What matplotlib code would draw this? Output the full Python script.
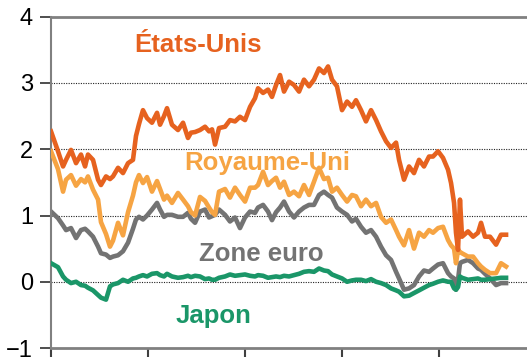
import matplotlib

matplotlib.use("Agg")
import matplotlib.pyplot as plt

plt.rcParams["font.family"] = ["Liberation Sans", "DejaVu Sans"]

# time in years since start of the sample
t = [
    0.000, 0.072, 0.124, 0.155, 0.206, 0.258, 0.309, 0.351, 0.381, 0.433,
    0.485, 0.515, 0.567, 0.608, 0.639, 0.691, 0.742, 0.794, 0.845, 0.876,
    0.907, 0.948, 0.990, 1.041, 1.093, 1.124, 1.165, 1.196, 1.247, 1.309,
    1.361, 1.412, 1.443, 1.485, 1.536, 1.588, 1.629, 1.660, 1.691, 1.732,
    1.794, 1.845, 1.897, 1.948, 2.000, 2.052, 2.103, 2.134, 2.186, 2.237,
    2.278, 2.320, 2.361, 2.402, 2.454, 2.505, 2.557, 2.608, 2.660, 2.711,
    2.763, 2.814, 2.856, 2.897, 2.948, 3.000, 3.052, 3.103, 3.144, 3.196,
    3.247, 3.299, 3.351, 3.402, 3.454, 3.505, 3.557, 3.588, 3.639, 3.691,
    3.742, 3.794, 3.845, 3.897, 3.938, 3.990, 4.041, 4.093, 4.124, 4.155,
    4.175, 4.196, 4.216, 4.237, 4.299, 4.351, 4.402, 4.433, 4.474, 4.526,
    4.588, 4.639, 4.691,
]

etats_unis = [
    2.27, 1.97, 1.74, 1.84, 1.99, 1.79, 1.92, 1.74, 1.92, 1.84,
    1.54, 1.46, 1.59, 1.55, 1.59, 1.72, 1.64, 1.79, 1.84, 2.20,
    2.38, 2.59, 2.47, 2.40, 2.55, 2.37, 2.50, 2.62, 2.37, 2.29,
    2.40, 2.17, 2.25, 2.26, 2.29, 2.34, 2.27, 2.30, 2.07, 2.32,
    2.34, 2.44, 2.42, 2.49, 2.44, 2.64, 2.77, 2.92, 2.85, 2.90,
    2.79, 2.97, 3.12, 2.87, 3.02, 2.97, 2.87, 3.05, 2.95, 3.05,
    3.22, 3.15, 3.25, 3.05, 2.95, 2.59, 2.72, 2.64, 2.74, 2.59,
    2.42, 2.59, 2.44, 2.27, 2.12, 2.02, 2.10, 1.84, 1.54, 1.74,
    1.64, 1.84, 1.74, 1.89, 1.89, 1.97, 1.87, 1.69, 1.49, 1.19,
    0.74, 0.48, 1.24, 0.68, 0.76, 0.68, 0.74, 0.89, 0.68, 0.68,
    0.56, 0.71, 0.71,
]

royaume_uni = [
    1.97, 1.70, 1.36, 1.54, 1.61, 1.45, 1.55, 1.50, 1.59, 1.39,
    1.24, 0.90, 0.72, 0.53, 0.62, 0.89, 0.70, 1.05, 1.30, 1.50,
    1.61, 1.49, 1.58, 1.36, 1.52, 1.40, 1.24, 1.30, 1.19, 1.34,
    1.24, 1.14, 1.05, 1.00, 1.28, 1.22, 1.12, 1.05, 1.01, 1.36,
    1.40, 1.27, 1.42, 1.31, 1.21, 1.42, 1.42, 1.46, 1.66, 1.46,
    1.52, 1.57, 1.42, 1.51, 1.31, 1.36, 1.29, 1.46, 1.31, 1.51,
    1.72, 1.55, 1.57, 1.36, 1.42, 1.31, 1.21, 1.31, 1.29, 1.14,
    1.24, 1.14, 1.19, 0.98, 0.89, 0.94, 0.78, 0.68, 0.55, 0.78,
    0.50, 0.74, 0.68, 0.78, 0.74, 0.81, 0.83, 0.63, 0.55, 0.50,
    0.28, 0.48, 0.45, 0.43, 0.38, 0.38, 0.28, 0.23, 0.18, 0.13,
    0.13, 0.28, 0.23,
]

zone_euro = [
    1.06, 0.96, 0.85, 0.78, 0.81, 0.66, 0.78, 0.80, 0.76, 0.68,
    0.53, 0.43, 0.41, 0.36, 0.38, 0.40, 0.46, 0.59, 0.80, 0.94,
    0.98, 0.94, 1.00, 1.09, 1.19, 1.09, 0.98, 1.01, 1.01, 0.98,
    0.98, 1.04, 0.95, 0.89, 1.06, 1.09, 0.97, 0.99, 1.01, 1.09,
    1.01, 0.91, 0.97, 0.81, 0.97, 1.06, 1.04, 1.12, 1.16, 1.06,
    0.93, 1.05, 1.12, 1.21, 1.06, 0.97, 1.06, 1.12, 1.16, 1.16,
    1.31, 1.36, 1.31, 1.27, 1.12, 1.06, 1.01, 0.91, 0.95, 0.83,
    0.74, 0.78, 0.68, 0.53, 0.40, 0.33, 0.15, 0.05, -0.12, -0.10,
    -0.05, 0.08, 0.17, 0.15, 0.20, 0.26, 0.28, 0.13, 0.08, 0.05,
    -0.12, 0.03, 0.28, 0.30, 0.33, 0.28, 0.20, 0.18, 0.12, 0.05,
    -0.05, -0.02, -0.02,
]

japon = [
    0.28, 0.22, 0.08, 0.03, -0.02, 0.00, -0.05, -0.06, -0.09, -0.13,
    -0.20, -0.24, -0.27, -0.07, -0.04, -0.02, 0.03, 0.00, 0.05, 0.06,
    0.08, 0.10, 0.08, 0.12, 0.13, 0.10, 0.08, 0.12, 0.08, 0.06,
    0.07, 0.09, 0.07, 0.09, 0.08, 0.04, 0.05, 0.03, 0.03, 0.06,
    0.08, 0.11, 0.09, 0.10, 0.11, 0.09, 0.08, 0.10, 0.09, 0.06,
    0.07, 0.08, 0.07, 0.09, 0.08, 0.10, 0.12, 0.15, 0.16, 0.15,
    0.20, 0.17, 0.16, 0.11, 0.08, 0.05, 0.00, 0.02, 0.03, 0.03,
    0.01, 0.04, 0.00, -0.02, -0.05, -0.10, -0.13, -0.15, -0.22, -0.21,
    -0.17, -0.13, -0.09, -0.05, -0.03, 0.00, 0.02, 0.00, 0.00, -0.10,
    -0.12, -0.08, 0.08, 0.06, 0.03, 0.04, 0.05, 0.03, 0.03, 0.04,
    0.05, 0.06, 0.06,
]

yticks = [-1, 0, 1, 2, 3, 4]
xticks = [0, 1, 2, 3, 4]

C_US = "#e6621f"
C_UK = "#f6a443"
C_EU = "#737373"
C_JP = "#1a9668"

fig = plt.figure(figsize=(5.27, 3.59), dpi=100)
ax = fig.add_axes([0.0968, 0.0306, 0.9032, 0.9228])

for y in [0, 1, 2, 3]:
    ax.axhline(y, color="#222222", lw=0.8, ls=(0, (1, 1.2)), zorder=1)

ax.plot(t, zone_euro, color=C_EU, lw=3.3, zorder=2)
ax.plot(t, royaume_uni, color=C_UK, lw=3.3, zorder=3)
ax.plot(t, etats_unis, color=C_US, lw=3.3, zorder=4)
ax.plot(t, japon, color=C_JP, lw=3.3, zorder=5)

lab = dict(fontsize=18.5, fontweight="bold", ha="center", va="baseline")
ax.text(1.52, 3.47, "États-Unis", color=C_US, **lab)
ax.text(2.23, 1.69, "Royaume-Uni", color=C_UK, **lab)
ax.text(2.17, 0.31, "Zone euro", color=C_EU, **lab)
ax.text(1.675, -0.62, "Japon", color=C_JP, **lab)

ax.set_xlim(0, 4.907)
ax.set_ylim(-1, 4)
ax.set_yticks(yticks)
ax.set_xticks(xticks)
ax.set_xticklabels([])
ax.tick_params(axis="y", direction="out", length=8, width=1.3, colors="#404040",
               labelcolor="black", labelsize=17, pad=5)
ax.tick_params(axis="x", direction="out", length=6.5, width=1.5, colors="#404040")

ax.spines["right"].set_visible(False)
for side in ["top", "bottom"]:
    ax.spines[side].set_color("#808080")
    ax.spines[side].set_linewidth(2)
ax.spines["left"].set_color("#808080")
ax.spines["left"].set_linewidth(1.5)

fig.savefig("out.png", dpi=100)
